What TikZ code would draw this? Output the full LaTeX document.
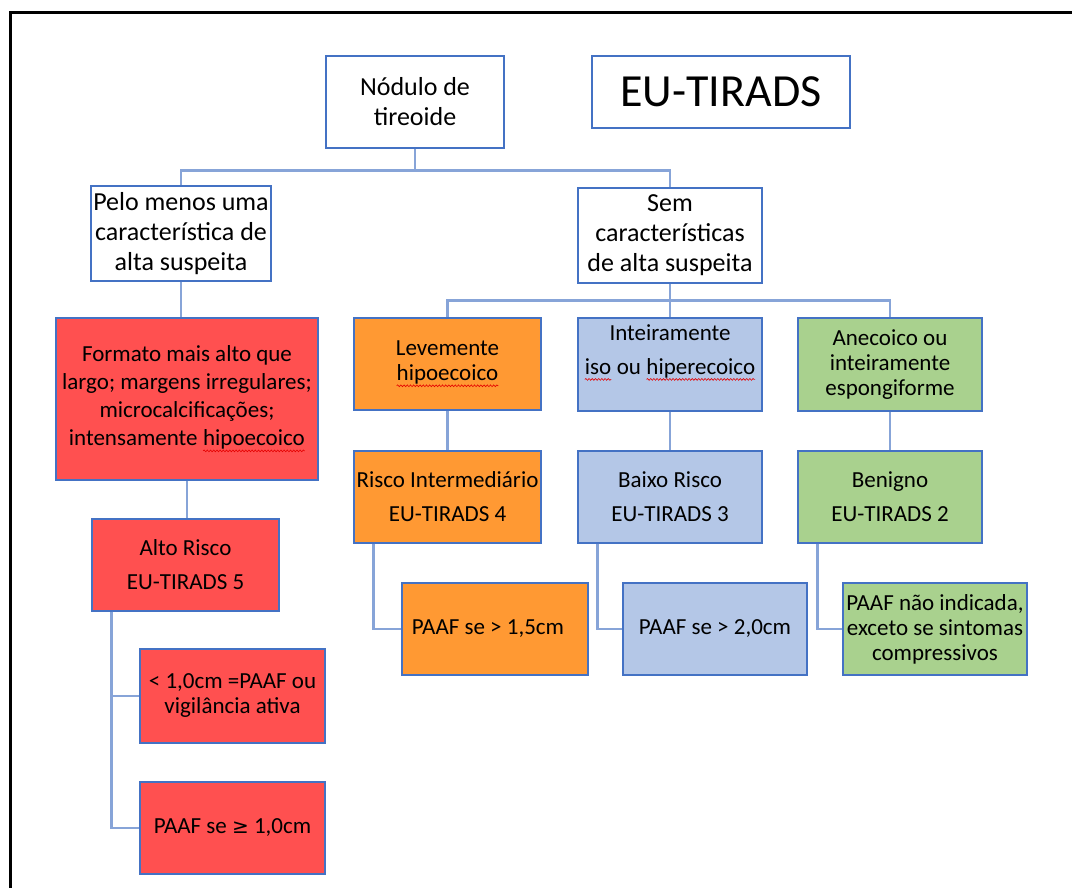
\documentclass[tikz,border=0pt]{standalone}
\usepackage{fontspec}
\setmainfont{Carlito}
\usetikzlibrary{calc,decorations.pathmorphing}
\definecolor{bord}{RGB}{68,114,196}
\definecolor{connc}{RGB}{135,164,216}
\definecolor{cred}{RGB}{255,80,80}
\definecolor{corange}{RGB}{255,153,51}
\definecolor{cblue}{RGB}{180,199,231}
\definecolor{cgreen}{RGB}{169,209,142}
\tikzset{
  sqwnode/.style={inner sep=0pt,outer sep=0pt,minimum width=0pt,minimum height=0pt,
    draw=none,fill=none,text depth=,text height=,text width=,shape=rectangle},
  sqwline/.style={draw=red!90!black,line width=0.6pt,decorate,
    decoration={snake,amplitude=0.9pt,segment length=3.2pt}}
}
\newcommand\sqw[1]{\tikz[baseline=(w.base)]{\node[sqwnode](w){#1};\draw[sqwline]([yshift=-5pt]w.base west)--([yshift=-5pt]w.base east);}}
\tikzset{
  box/.style={draw=bord,line width=1.3pt,align=center,inner sep=2pt,text=black,
    font=\fontsize{23}{25}\selectfont},
  bigbox/.style={box,fill=white,font=\fontsize{26}{30}\selectfont},
  redbox/.style={box,fill=cred},
  orbox/.style={box,fill=corange},
  bluebox/.style={box,fill=cblue},
  grbox/.style={box,fill=cgreen},
  connline/.style={draw=connc,line width=2.6pt},
  frameline/.style={draw=black,line width=3pt}
}
\begin{document}
\begin{tikzpicture}[x=1pt,y=-1pt]
\useasboundingbox (0,0) rectangle (1072,888);
\fill[white] (0,0) rectangle (1072,888);
\draw[frameline] (10.5,888) -- (10.5,13) -- (1072,13);

% top level
\node[bigbox,minimum width=178pt,minimum height=92pt] (nod) at (415,102) {Nódulo de\\tireoide};
\node[box,fill=white,minimum width=258pt,minimum height=72pt,font=\fontsize{46}{50}\selectfont] (eut) at (721,92) {EU-TIRADS};
\node[bigbox,minimum width=180pt,minimum height=95pt] (pelo) at (181,233.5) {Pelo menos uma\\característica de\\alta suspeita};
\node[bigbox,minimum width=184pt,minimum height=95pt] (sem) at (670,235.5) {Sem\\características\\de alta suspeita};

% left (red) branch
\node[redbox,minimum width=262pt,minimum height=162pt,font=\fontsize{23}{28}\selectfont] (feat) at (187,399) {Formato mais alto que\\largo; margens irregulares;\\microcalcificações;\\intensamente \sqw{hipoecoico}};
\node[redbox,minimum width=187pt,minimum height=92pt] (alto) at (185.5,565) {Alto Risco\\[9pt]EU-TIRADS 5};
\node[redbox,minimum width=185pt,minimum height=94pt] (lt1) at (232.5,696) {< 1,0cm =PAAF ou\\vigilância ativa};
\node[redbox,minimum width=185pt,minimum height=92pt] (ge1) at (232.5,828) {PAAF se \fontspec{DejaVu Sans}\fontsize{20}{25}\selectfont≥\fontspec{Carlito}\fontsize{23}{25}\selectfont{} 1,0cm};

% second level
\node[orbox,minimum width=187pt,minimum height=92pt] (lev) at (447.5,364) {Levemente\\\sqw{hipoecoico}};
\node[bluebox,minimum width=184pt,minimum height=93pt,text depth=30pt] (int) at (670,364.5) {Inteiramente\\[9pt]\sqw{iso} ou \sqw{hiperecoico}};
\node[grbox,minimum width=184pt,minimum height=93pt] (ane) at (890,364.5) {Anecoico ou\\inteiramente\\espongiforme};

% third level
\node[orbox,minimum width=187pt,minimum height=92pt,inner sep=1pt] (ri4) at (447.5,497) {Risco Intermediário\\[9pt]EU-TIRADS 4};
\node[bluebox,minimum width=184pt,minimum height=92pt] (br3) at (670,497) {Baixo Risco\\[9pt]EU-TIRADS 3};
\node[grbox,minimum width=184pt,minimum height=92pt] (ben) at (890,497) {Benigno\\[9pt]EU-TIRADS 2};

% fourth level
\node[orbox,minimum width=186pt,minimum height=92pt] (p15) at (495,629) {PAAF se > 1,5cm\hspace{14pt}};
\node[bluebox,minimum width=184pt,minimum height=92pt] (p20) at (715,629) {PAAF se > 2,0cm};
\node[grbox,minimum width=184pt,minimum height=92pt] (pna) at (935,629) {PAAF não indicada,\\exceto se sintomas\\compressivos};

% connectors
\coordinate (b1) at ($(nod.south)+(0,22)$);
\draw[connline] (nod.south) -- (b1);
\draw[connline] (pelo.north) |- (b1) -| (sem.north);
\draw[connline] (pelo.south) -- (pelo.south |- feat.north);
\draw[connline] (feat.south) -- (feat.south |- alto.north);
\coordinate (a5) at ($(alto.south west)+(20,0)$);
\draw[connline] (a5) |- (lt1.west);
\draw[connline] (a5) |- (ge1.west);
\coordinate (b2) at ($(sem.south)+(0,17)$);
\draw[connline] (sem.south) -- (int.north);
\draw[connline] (lev.north) |- (b2) -| (ane.north);
\draw[connline] (lev.south) -- (ri4.north);
\draw[connline] (int.south) -- (br3.north);
\draw[connline] (ane.south) -- (ben.north);
\coordinate (c4) at ($(ri4.south west)+(20,0)$);
\coordinate (c3) at ($(br3.south west)+(20,0)$);
\coordinate (c2) at ($(ben.south west)+(20,0)$);
\draw[connline] (c4) |- (p15.west);
\draw[connline] (c3) |- (p20.west);
\draw[connline] (c2) |- (pna.west);
\end{tikzpicture}
\end{document}
